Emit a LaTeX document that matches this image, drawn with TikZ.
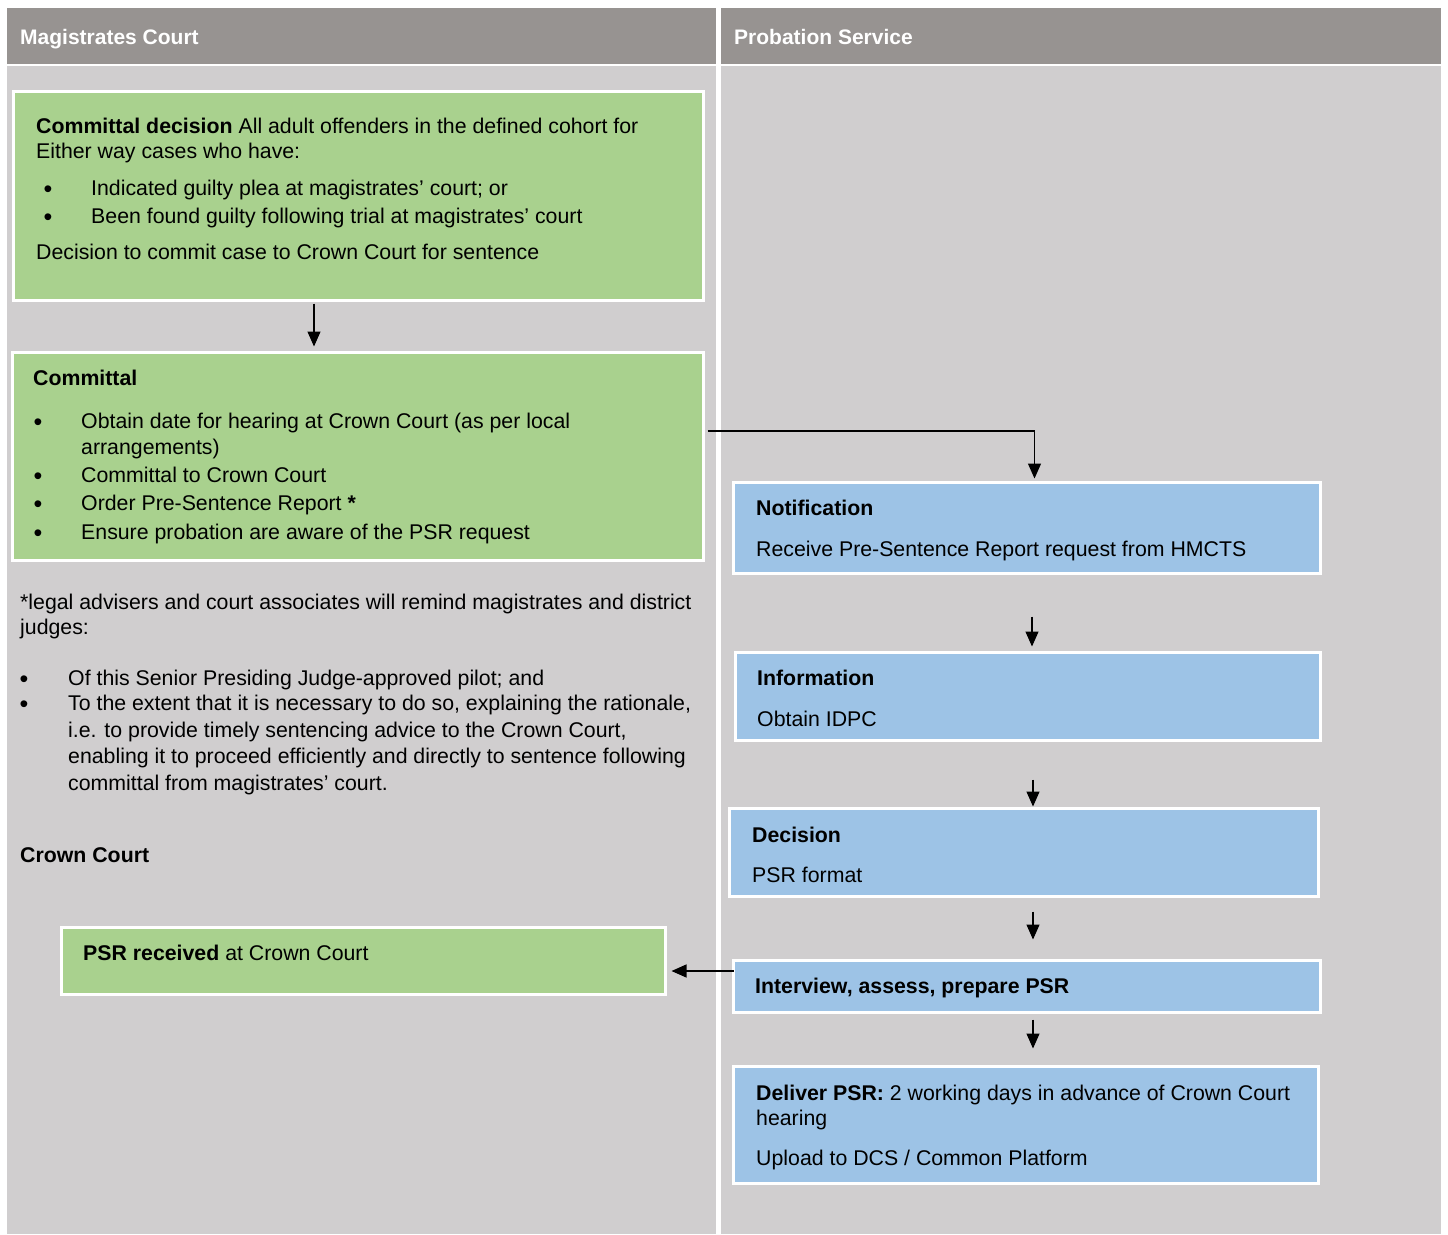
\documentclass[tikz,border=0pt]{standalone}
\usepackage{fontspec}
\setmainfont{Liberation Sans}
\usetikzlibrary{fit,arrows.meta}
\definecolor{hdr}{HTML}{979391}
\definecolor{bodyg}{HTML}{D0CECF}
\definecolor{gfill}{HTML}{A9D18E}
\definecolor{bfill}{HTML}{9DC3E6}
\tikzset{
  gbox/.style={draw=white, line width=3pt, fill=gfill, inner sep=0pt},
  bbox/.style={draw=white, line width=3pt, fill=bfill, inner sep=0pt},
  txt/.style={anchor=base west, inner sep=0pt, font=\fontsize{21.3}{25}\selectfont, text=black, yshift=-1pt},
  bul/.style={anchor=base, inner sep=0pt, font=\fontsize{25}{25}\selectfont, text=black, yshift=-3pt},
  htxt/.style={txt, text=white, font=\fontsize{21}{25}\selectfont\bfseries},
  arr/.style={line width=1.2pt, -{Triangle[length=15pt,width=13pt]}}
}
\begin{document}
\begin{tikzpicture}[x=1pt,y=-1pt]
\useasboundingbox (0,0) rectangle (1448,1234);
\fill[white] (0,0) rectangle (1448,1234);
% columns
\fill[hdr] (7,8) rectangle (716,64);
\fill[hdr] (721,8) rectangle (1441,64);
\fill[bodyg] (7,66) rectangle (716,1234);
\fill[bodyg] (721,66) rectangle (1441,1234);
\node[htxt] (h1) at (20,43) {Magistrates Court};
\node[htxt] (h2) at (734,43) {Probation Service};
% boxes
\node[gbox, fit={(13,91) (703,300)}] (b1) {};
\node[gbox, fit={(12,352) (703,560)}] (b2) {};
\node[gbox, fit={(61,927) (665,994)}] (b3) {};
\node[bbox, fit={(733,482) (1320,573)}] (b4) {};
\node[bbox, fit={(735,652) (1320,740)}] (b5) {};
\node[bbox, fit={(729,808) (1318,896)}] (b6) {};
\node[bbox, fit={(733,960) (1320,1012)}] (b7) {};
\node[bbox, fit={(733,1066) (1318,1183)}] (b8) {};
% box 1 text
\node[txt] (t11) at (36,132) {\textbf{Committal decision} All adult offenders in the defined cohort for};
\node[txt] (t12) at (36,157) {Either way cases who have:};
\node[bul] (u11) at (48,194) {\textbullet};
\node[txt] (t13) at (91,194) {Indicated guilty plea at magistrates’ court; or};
\node[bul] (u12) at (48,222) {\textbullet};
\node[txt] (t14) at (91,222) {Been found guilty following trial at magistrates’ court};
\node[txt] (t15) at (36,258) {Decision to commit case to Crown Court for sentence};
% box 2 text
\node[txt] (t21) at (33,384) {\textbf{Committal}};
\node[bul] (u21) at (38,427) {\textbullet};
\node[txt] (t22) at (81,427) {Obtain date for hearing at Crown Court (as per local};
\node[txt] (t23) at (81,453) {arrangements)};
\node[bul] (u22) at (38,481) {\textbullet};
\node[txt] (t24) at (81,481) {Committal to Crown Court};
\node[bul] (u23) at (38,509) {\textbullet};
\node[txt] (t25) at (81,509) {Order Pre-Sentence Report \textbf{*}};
\node[bul] (u24) at (38,538) {\textbullet};
\node[txt] (t26) at (81,538) {Ensure probation are aware of the PSR request};
% footnote
\node[txt] (f1) at (20,608) {*legal advisers and court associates will remind magistrates and district};
\node[txt] (f2) at (20,633) {judges:};
\node[bul] (fu1) at (24,684) {\textbullet};
\node[txt] (f3) at (68,684) {Of this Senior Presiding Judge-approved pilot; and};
\node[bul] (fu2) at (24,709) {\textbullet};
\node[txt] (f4) at (68,709) {To the extent that it is necessary to do so, explaining the rationale,};
\node[txt] (f5) at (68,736) {i.e. to provide timely sentencing advice to the Crown Court,};
\node[txt] (f6) at (68,762) {enabling it to proceed efficiently and directly to sentence following};
\node[txt] (f7) at (68,789) {committal from magistrates’ court.};
\node[txt] (cc) at (20,861) {\textbf{Crown Court}};
% box 3
\node[txt] (t31) at (83,959) {\textbf{PSR received} at Crown Court};
% blue boxes
\node[txt] (t41) at (756,514) {\textbf{Notification}};
\node[txt] (t42) at (756,555) {Receive Pre-Sentence Report request from HMCTS};
\node[txt] (t51) at (757,684) {\textbf{Information}};
\node[txt] (t52) at (757,725) {Obtain IDPC};
\node[txt] (t61) at (752,841) {\textbf{Decision}};
\node[txt] (t62) at (752,881) {PSR format};
\node[txt] (t71) at (755,992) {\textbf{Interview, assess, prepare PSR}};
\node[txt] (t81) at (756,1099) {\textbf{Deliver PSR:} 2 working days in advance of Crown Court};
\node[txt] (t82) at (756,1124) {hearing};
\node[txt] (t83) at (756,1164) {Upload to DCS / Common Platform};
% arrows
\draw[arr] ([xshift=-44pt,yshift=-2pt]b1.south) -- ++(0,43);
\draw[arr] ([xshift=3pt,yshift=25pt]b2.east) -| ([xshift=8pt,yshift=2pt]b4.north);
\draw[arr] ([xshift=5.5pt,yshift=-42pt]b4.south) -- ++(0,30);
\draw[arr] ([xshift=5.5pt,yshift=-38pt]b5.south) -- ++(0,27);
\draw[arr] ([xshift=9.5pt,yshift=-14pt]b6.south) -- ++(0,28);
\draw[arr] ([xshift=6.5pt,yshift=-6pt]b7.south) -- ++(0,29);
\draw[arr] ([xshift=2pt,yshift=15pt]b7.west) -- ([xshift=5pt,yshift=-10.5pt]b3.east);
\end{tikzpicture}
\end{document}
